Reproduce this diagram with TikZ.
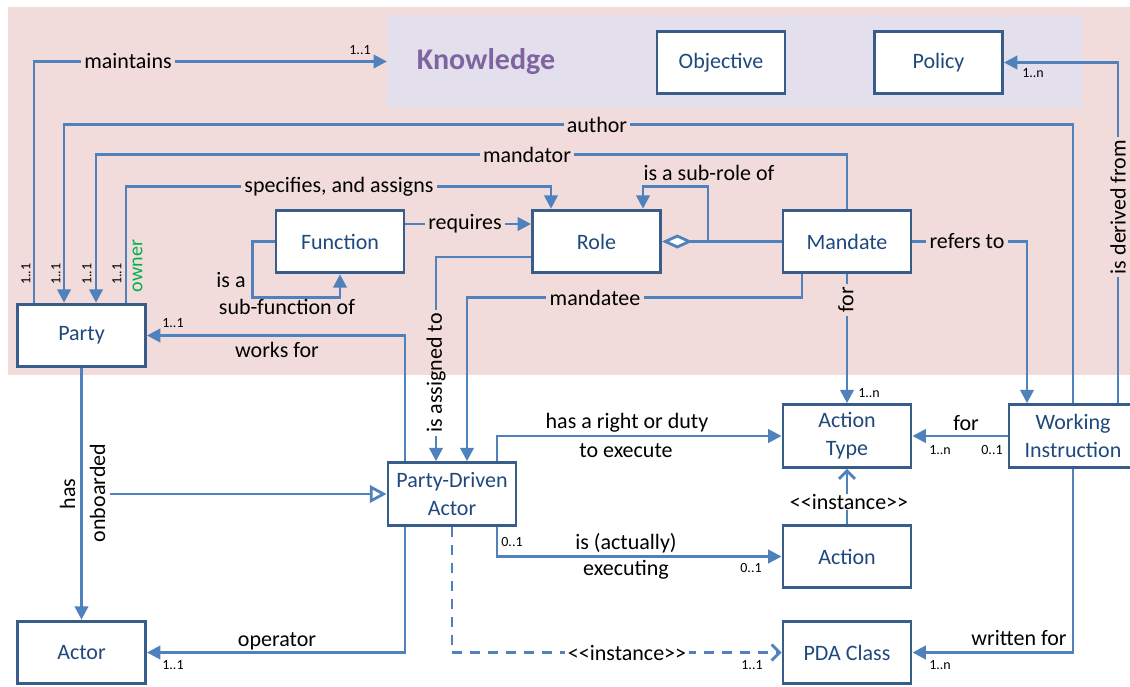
\documentclass[tikz,border=0pt]{standalone}
\usepackage{fontspec}
\setmainfont{Carlito}
\usepackage{tikz}
\usetikzlibrary{calc,arrows.meta}
\definecolor{wire}{HTML}{4F81BD}
\definecolor{frame}{HTML}{385D8A}
\definecolor{ink}{HTML}{1F497D}
\definecolor{rose}{HTML}{F2DCDB}
\definecolor{lilac}{HTML}{E4DFEC}
\definecolor{plum}{HTML}{8064A2}
\definecolor{leaf}{HTML}{00B050}
\newcommand{\stereo}[1]{<\kern0pt<#1>\kern0pt>}
\tikzset{
  cls/.style={draw=frame, fill=white, line width=2.2pt, text=ink, align=center,
    minimum width=96pt, minimum height=47pt, font=\fontsize{16.5}{21}\selectfont},
  plain/.style={draw=wire, line width=2.1pt},
  conn/.style={plain, -{Triangle[length=10pt,width=10pt]}},
  inst/.style={plain, -{Straight Barb[length=6pt,width=12pt,line width=2.1pt]}},
  lab/.style={font=\fontsize{16.5}{19}\selectfont, inner xsep=2.5pt, inner ysep=0pt},
  mult/.style={font=\fontsize{10.5}{12}\selectfont, inner sep=0pt}
}

\begin{document}
\begin{tikzpicture}[x=0.75pt, y=-0.75pt]
  \useasboundingbox (0,0) rectangle (1130,686);
  \fill[rose] (8,7) rectangle (1130,375);
  \node[fill=lilac, minimum width=521pt, minimum height=70pt, inner sep=0pt] (know) at (734.5,61.5) {};
  \node[font=\bfseries\fontsize{22.5}{26}\selectfont, text=plum] (knowtxt) at (486,62) {Knowledge};

  % classes
  \node[cls] (Objective) at (721,62.5) {Objective};
  \node[cls] (Policy) at (938.5,62.5) {Policy};
  \node[cls] (Party) at (81.5,335.5) {Party};
  \node[cls] (Function) at (340,241.5) {Function};
  \node[cls] (Role) at (596.5,241.5) {Role};
  \node[cls] (Mandate) at (847,241.5) {Mandate};
  \node[cls] (PDA) at (452,494) {Party-Driven\\Actor};
  \node[cls] (ActType) at (847,436) {Action\\Type};
  \node[cls] (WI) at (1073,436) {Working\\Instruction};
  \node[cls] (Action) at (847,556.5) {Action};
  \node[cls] (Actor) at (81.5,652.5) {Actor};
  \node[cls] (PDAClass) at (847,652.5) {PDA Class};

  % associations
  \draw[conn] ($(Party.north west)+(18,0)$) |- (know.west);
  \draw[conn] (WI.north) |- ($(Party.north west)+(48,-178)$) -- ($(Party.north west)+(48,0)$);
  \draw[conn] (Mandate.north) |- ($(Party.north west)+(80,-148)$) -- ($(Party.north west)+(80,0)$);
  \draw[conn] ($(Party.north west)+(110,0)$) |- ($(Role.north)+(-45.5,-22)$) -- ($(Role.north)+(-45.5,0)$);
  \draw[conn] ($(WI.north)+(45,0)$) |- (Policy.east);
  \draw[conn] ($(Function.east)+(0,-17.5)$) -- ($(Role.west)+(0,-17.5)$);
  \draw[conn] (Function.west) -- ++(-22,0) |- ($(Function.south)+(0,23)$) -- (Function.south);
  \draw[plain, {Diamond[open,fill=white,length=23pt,width=10.5pt]}-] (Role.east) -- (Mandate.west);
  \draw[conn] ($(Role.east)+(46,0)$) |- ($(Role.north)+(46.5,-22)$) -- ($(Role.north)+(46.5,0)$);
  \draw[conn] ($(Mandate.south)+(-45,0)$) |- ($(PDA.north)+(15,-164)$) -- ($(PDA.north)+(15,0)$);

  \node[lab, rotate=90] (assigned) at (436,373) {is assigned to};
  \draw[plain] ($(Role.west)+(0,15.5)$) -| (assigned.east);
  \draw[conn] (assigned.west) -- (assigned.west |- PDA.north);

  \draw[conn] ($(PDA.north)+(-47,0)$) |- (Party.east);
  \draw[conn] ($(PDA.south)+(-47,0)$) |- (Actor.east);
  \draw[conn] (Party.south) -- (Actor.north);
  \coordinate (onb) at (110,494);
  \draw[plain, -{Triangle[open,fill=white,length=12.5pt,width=13pt]}] (onb) -- (PDA.west);
  \draw[conn] ($(PDA.north)+(45,0)$) |- (ActType.west);
  \draw[conn] ($(PDA.south)+(45,0)$) |- (Action.west);
  \draw[inst, dash pattern=on 7.5pt off 6pt] (PDA.south) |- (PDAClass.west);
  \draw[inst] (Action.north) -- (ActType.south);
  \draw[conn] (Mandate.south) -- (ActType.north);
  \draw[conn] (Mandate.east) -| ($(WI.north)+(-46,0)$);
  \draw[conn] (WI.west) -- (ActType.east);
  \draw[conn] (WI.south) |- (PDAClass.east);

  % labels
  \node[lab, fill=rose] at (128,61.5) {maintains};
  \node[mult] at (360,50) {1..1};
  \node[lab, fill=rose] at (597,125) {author};
  \node[lab, fill=rose] at (527,155) {mandator};
  \node[lab, fill=rose] at (339,187) {specifies, and assigns};
  \node[lab, fill=rose] at (465,224) {requires};
  \node[lab] at (231,280) {is a};
  \node[lab] at (287,307) {sub-function of};
  \node[lab] at (709,173) {is a sub-role of};
  \node[lab, fill=rose] at (595,298) {mandatee};
  \node[lab, fill=rose] at (967,241.5) {refers to};
  \node[lab, fill=rose, rotate=90] at (846,300) {for};
  \node[lab, fill=rose, rotate=90] at (1118,207) {is derived from};
  \node[mult] at (1033,73) {1..n};
  \foreach \x in {26,56,87,117}
    \node[mult, rotate=90] at (\x,274) {1..1};
  \node[lab, rotate=90, text=leaf, font=\fontsize{15}{18}\selectfont] at (137.5,266) {owner};
  \node[lab] at (277,350) {works for};
  \node[mult] at (173,323) {1..1};
  \node[lab] at (277,641) {operator};
  \node[mult] at (173,665) {1..1};
  \node[lab, rotate=90] at (67.5,494) {has};
  \node[lab, rotate=90] at (97.5,493) {onboarded};
  \node[lab] at (627,423) {has a right or duty};
  \node[lab] at (626,451) {to execute};
  \node[mult] at (512,542) {0..1};
  \node[lab] at (626,543) {is (actually)};
  \node[lab] at (626,570) {executing};
  \node[mult] at (751,568) {0..1};
  \node[lab, fill=white] at (627,652.5) {\stereo{instance}};
  \node[mult] at (752,665) {1..1};
  \node[lab, fill=white] at (849,502) {\stereo{instance}};
  \node[mult] at (869,393) {1..n};
  \node[lab] at (966,423) {for};
  \node[mult] at (940,450) {1..n};
  \node[mult] at (992,450) {0..1};
  \node[lab] at (1019,638) {written for};
  \node[mult] at (940,665) {1..n};
\end{tikzpicture}
\end{document}
